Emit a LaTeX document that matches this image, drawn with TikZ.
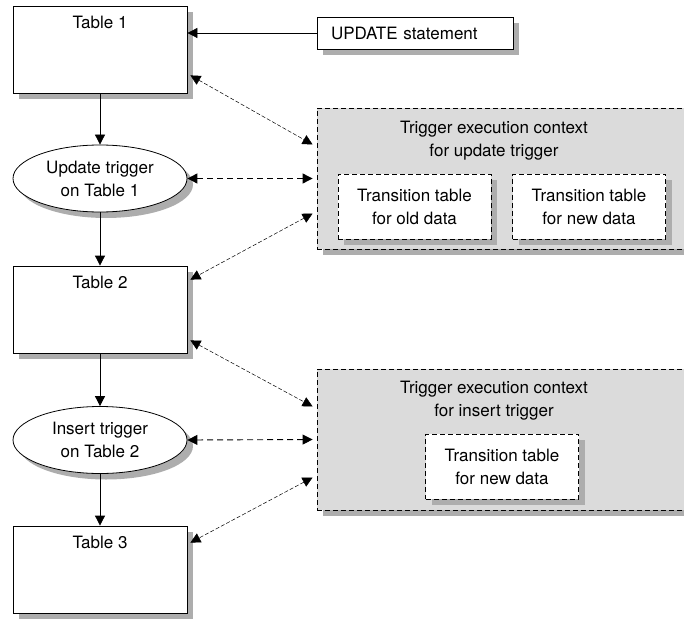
\documentclass[tikz,border=0pt]{standalone}
\usepackage{fontspec}
\setmainfont{TeX Gyre Heros}
\usetikzlibrary{shapes.geometric,shadows,arrows.meta}
\definecolor{shadowgray}{gray}{0.68}
\definecolor{ctxgray}{gray}{0.86}

\begin{document}
\begin{tikzpicture}[x=1pt,y=-1pt,line width=0.8pt,
	every node/.style={font=\fontsize{17}{23}\selectfont},
	shade/.style={drop shadow={shadow xshift=6pt,shadow yshift=-6pt,fill=shadowgray,opacity=1}},
	tbl/.style={draw,fill=white,shade,minimum width=174pt,minimum height=87pt,inner sep=0pt},
	trig/.style={ellipse,draw,fill=white,shade,minimum width=174pt,minimum height=67pt,inner sep=0pt,align=center},
	ctxbox/.style={draw,dash pattern=on 5pt off 3pt,fill=ctxgray,shade,minimum width=400pt,minimum height=141pt,inner sep=0pt},
	trans/.style={draw,dash pattern=on 5pt off 3pt,fill=white,shade,minimum width=153pt,minimum height=65pt,inner sep=0pt,align=center},
	tip/.style={-{Triangle[length=10pt,width=10pt]}},
	link/.style={{Triangle[length=10pt,width=10pt]}-{Triangle[length=10pt,width=10pt]},dash pattern=on 6pt off 4pt,line width=0.9pt},
	thinlink/.style={{Triangle[length=10pt,width=10pt]}-{Triangle[length=10pt,width=10pt]},dash pattern=on 4pt off 2pt,line width=0.5pt}]
		\useasboundingbox (0,0) rectangle (684,620);
		\clip (0,0) rectangle (684,620);
		\node[tbl,label={[anchor=north,yshift=-7pt]north:Table 1}] (t1) at (100,49.5) {};
		\node[tbl,label={[anchor=north,yshift=-7pt]north:Table 2}] (t2) at (100,309.5) {};
		\node[tbl,label={[anchor=north,yshift=-7pt]north:Table 3}] (t3) at (100,569.5) {};
		\node[trig] (e1) at (100,178.5) {Update trigger\\on Table 1};
		\node[trig] (e2) at (100,440) {Insert trigger\\on Table 2};
		\node[draw,fill=white,shade,minimum width=196pt,minimum height=32pt,text width=168pt,inner xsep=14pt,align=left] (upd) at (415,33) {UPDATE statement};
		\node[ctxbox] (ctx1) at (517,178.5) {};
		\node[ctxbox] (ctx2) at (517,439.5) {};
		\node[align=center] (title1) at (494,141) {Trigger execution context\\for update trigger};
		\node[align=center] (title2) at (494,401) {Trigger execution context\\for insert trigger};
		\node[trans] (old1) at (414.5,206.5) {Transition table\\for old data};
		\node[trans] (new1) at (589,206.5) {Transition table\\for new data};
		\node[trans] (new2) at (502,466.5) {Transition table\\for new data};
		\draw[tip] (upd.west) -- (upd.west -| t1.east);
		\draw[tip] (t1) -- (e1);
		\draw[tip] (e1) -- (t2);
		\draw[tip] (t2) -- (e2);
		\draw[tip] (e2) -- (t3);
		\draw[link,shorten >=4pt] (e1.east) -- (ctx1.west);
		\draw[link,shorten >=4pt] (e2.east) -- (ctx2.west);
		\draw[thinlink] ([xshift=3pt,yshift=18pt]t1.south east) -- ([xshift=-4pt,yshift=34pt]ctx1.west);
		\draw[thinlink] ([xshift=-4pt,yshift=-35pt]ctx1.west) -- ([xshift=3pt,yshift=-14pt]t2.north east);
		\draw[thinlink] ([xshift=3pt,yshift=13pt]t2.south east) -- ([xshift=-4pt,yshift=33pt]ctx2.west);
		\draw[thinlink] ([xshift=-4pt,yshift=-38pt]ctx2.west) -- ([xshift=3pt,yshift=-17pt]t3.north east);
	\end{tikzpicture}
\end{document}
